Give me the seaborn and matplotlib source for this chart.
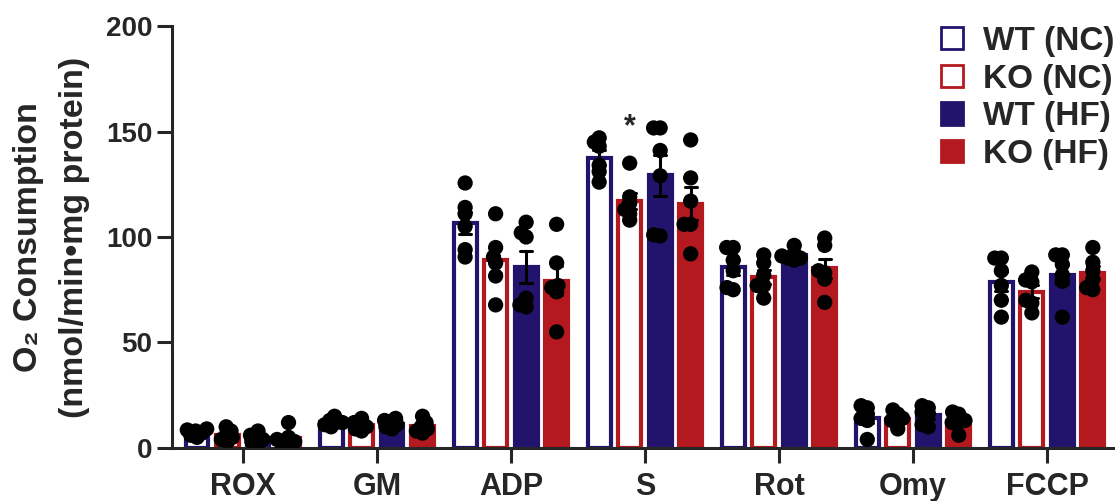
import numpy as np
import pandas as pd
import seaborn as sns
import matplotlib.pyplot as plt
from matplotlib.patches import Patch

# Data (6 animals per group)
categories = ["ROX", "GM", "ADP", "S", "Rot", "Omy", "FCCP"]
groups = ["WT (NC)", "KO (NC)", "WT (HF)", "KO (HF)"]
colors = ["#22146c", "#b3191e", "#22146c", "#b3191e"]

wt_nc = [[9, 8, 7, 6, 8.5, 5],
         [15, 13, 12, 11, 10, 12],
         [125.6, 114, 111, 105, 94, 90.5],
         [147, 145, 143, 134, 131, 126],
         [95, 95, 89, 84, 75, 76],
         [20, 19, 16, 14, 13, 4],
         [90, 90, 84, 77, 70, 62]]
ko_nc = [[10, 8, 6, 5, 3, 4],
         [14, 12, 11, 10, 9, 8],
         [111, 95, 90.5, 87.7, 81.5, 67.8],
         [135, 119, 116, 113, 111, 108],
         [91.5, 87.7, 82, 77, 71, 77],
         [18, 16, 14, 13, 12, 9],
         [83.4, 78.7, 79.6, 70, 68.7, 64]]
wt_hf = [[8, 6, 4, 3, 2, 5],
         [14, 13, 12, 11, 10, 9],
         [107, 102, 100, 71, 67.8, 66.8],
         [151.7, 151.7, 141, 129, 100.5, 101],
         [96, 92, 91, 90, 90, 89],
         [20, 19, 17, 16, 11, 10],
         [91.5, 91.5, 87, 82, 79, 62]]
ko_hf = [[12, 5, 4, 3, 2, 2],
         [15, 12, 10, 9, 8, 7],
         [106, 87.7, 77, 76, 74, 55],
         [146, 128, 117, 106, 106, 92],
         [99.5, 96, 84, 83, 80, 69],
         [17, 16, 13, 12, 12, 6],
         [95, 88, 84, 80, 76, 75]]

rows = []
for g, series in zip(groups, [wt_nc, ko_nc, wt_hf, ko_hf]):
    for c, vals in zip(categories, series):
        for v in vals:
            rows.append((c, g, v))
df = pd.DataFrame(rows, columns=["step", "group", "rate"])

sns.set_style("ticks")
plt.rcParams["font.family"] = ["Liberation Sans", "DejaVu Sans"]
plt.rcParams["font.weight"] = "bold"

fig = plt.figure(figsize=(11.15, 5.01), dpi=100)
ax = fig.add_axes([0.154, 0.106, 0.844, 0.842])

group_width = 0.91
sns.barplot(data=df, x="step", y="rate", hue="group", order=categories,
            hue_order=groups, palette=colors, saturation=1, errorbar="se",
            capsize=0.35, width=group_width, gap=0.25,
            err_kws={"color": "black", "linewidth": 2.2},
            legend=False, ax=ax)

# open bars for normal chow, filled for high fat
for i, cont in enumerate(ax.containers):
    for bar in cont:
        bar.set_edgecolor(colors[i])
        bar.set_linewidth(3)
        if "NC" in groups[i]:
            bar.set_facecolor("white")

# lay the swarm out with small markers so the dots overlap, then enlarge them
n_coll = len(ax.collections)
sns.swarmplot(data=df, x="step", y="rate", hue="group", order=categories,
              hue_order=groups, dodge=True, palette=["black"] * 4, size=4.5,
              legend=False, warn_thresh=1, ax=ax)
ax.set_xlim(-0.53, 6.49)
ax.set_ylim(0, 200)
fig.canvas.draw()  # beeswarm positions are computed at draw time

slots = np.array([-0.3, -0.1, 0.1, 0.3])
for coll in ax.collections[n_coll:]:
    if "draw" in coll.__dict__:
        del coll.draw  # freeze the computed layout
    off = np.array(coll.get_offsets())
    if len(off) == 0:
        continue
    cat = np.round(np.median(off[:, 0]))
    s0 = slots[np.argmin(np.abs(slots - (np.median(off[:, 0]) - cat)))]
    off[:, 0] = cat + s0 * group_width / 0.8 + (off[:, 0] - cat - s0)
    coll.set_offsets(off)
    coll.set_sizes([11 ** 2])

# significance mark on KO (NC), S
slot = group_width / 4
ax.text(categories.index("S") - slot / 2, 152, "*", ha="center", va="center",
        fontsize=22, fontweight="bold")

ax.set_yticks([0, 50, 100, 150, 200])
ax.set_xlabel("")
ax.set_ylabel("O₂ Consumption\n(nmol/min•mg protein)", fontsize=24.5,
              fontweight="bold", linespacing=1.6)
ax.yaxis.set_label_coords(-0.087, 0.5)

sns.despine(ax=ax)
for side in ["left", "bottom"]:
    ax.spines[side].set_linewidth(2.2)
ax.tick_params(axis="y", length=11, width=2.2, labelsize=20, pad=3)
ax.tick_params(axis="x", length=11, width=2.2, labelsize=22, pad=6)
for lab in ax.get_xticklabels() + ax.get_yticklabels():
    lab.set_fontweight("bold")

handles = [Patch(facecolor="white", edgecolor=colors[0], linewidth=2),
           Patch(facecolor="white", edgecolor=colors[1], linewidth=2),
           Patch(facecolor=colors[2], edgecolor=colors[2], linewidth=2),
           Patch(facecolor=colors[3], edgecolor=colors[3], linewidth=2)]
fig.legend(handles, groups, loc="upper right", bbox_to_anchor=(1.011, 0.975),
           frameon=False, handlelength=0.65, handleheight=0.65,
           handletextpad=0.6, labelspacing=0.2, borderaxespad=0,
           prop={"weight": "bold", "size": 24})

fig.savefig("out.png", dpi=100)
